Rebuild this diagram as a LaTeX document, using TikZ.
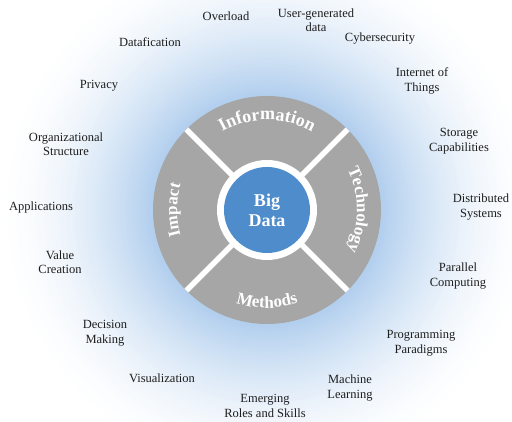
\documentclass[tikz,border=0pt]{standalone}
\usepackage{fontspec}
\setmainfont{Liberation Serif}
\usetikzlibrary{decorations.text}
\definecolor{glowA}{RGB}{178,207,238}
\definecolor{wheelgray}{RGB}{166,166,166}
\definecolor{coreblue}{RGB}{78,140,204}
\definecolor{lbltext}{RGB}{30,30,30}
\newcommand\wheelfont{\fontsize{17}{20}\selectfont\bfseries}
\newcommand\wheelfontwide{\fontsize{18}{20}\selectfont\bfseries}
\begin{document}
\begin{tikzpicture}[x=1pt,y=1pt,
  lbl/.style={align=center, font=\fontsize{12.5}{14.5}\selectfont, text=lbltext, inner sep=0pt},
  sepline/.style={draw=white, line width=5.5pt},
  corefont/.style={align=center, font=\fontsize{18}{20}\selectfont\bfseries, text=white, inner sep=0pt}
]
\useasboundingbox (0,0) rectangle (512,422);
\coordinate (c) at (267,212);
\begin{scope}
  \clip (0,0) rectangle (512,422);
  \fill[white] (0,0) rectangle (512,422);
  \foreach \i in {0,...,70} {
    \pgfmathsetmacro\r{270-\i*154/70}
    \pgfmathsetmacro\p{100*(\i/70)^1.7}
    \fill[glowA!\p!white] (c) circle (\r);
  }
\end{scope}
\fill[wheelgray] (c) circle (114);
\foreach \a in {45,135,225,315} \draw[sepline] (c) -- ++(\a:114);
\fill[white] (c) circle (50);
\fill[coreblue] (c) circle (43);
\node[corefont] (core) at (c) {Big\\Data};

\path[decorate, decoration={text along path, text align=center, text color=white, text={|\wheelfontwide|Information}}]
  ([shift={(150:90)}]c) arc[start angle=150, end angle=30, radius=90];
\path[decorate, decoration={text along path, text align=center, text color=white, text={|\wheelfont|Technology}}]
  ([shift={(45:90)}]c) arc[start angle=45, end angle=-45, radius=90];
\path[decorate, decoration={text along path, text align=center, text color=white, text={|\wheelfont|Impact}}]
  ([shift={(225:90)}]c) arc[start angle=225, end angle=135, radius=90];
\path[decorate, decoration={text along path, text align=center, text color=white, text={|\wheelfont|Methods}}]
  ([shift={(225:98)}]c) arc[start angle=225, end angle=315, radius=98];

\node[lbl] (overload) at (226,406) {Overload};
\node[lbl] (ugd) at (316,402) {User-generated\\data};
\node[lbl] (cyber) at (380,383) {Cybersecurity};
\node[lbl] (datafication) at (150,380) {Datafication};
\node[lbl] (iot) at (422,341) {Internet of\\Things};
\node[lbl] (privacy) at (99,336) {Privacy};
\node[lbl] (org) at (66,278) {Organizational\\Structure};
\node[lbl] (storage) at (459,281) {Storage\\Capabilities};
\node[lbl] (apps) at (41,214) {Applications};
\node[lbl] (dist) at (481,215) {Distributed\\Systems};
\node[lbl] (value) at (60,160) {Value\\Creation};
\node[lbl] (parallel) at (458,146) {Parallel\\Computing};
\node[lbl] (decision) at (105,89) {Decision\\Making};
\node[lbl] (prog) at (421,79) {Programming\\Paradigms};
\node[lbl] (vis) at (162,44) {Visualization};
\node[lbl] (ml) at (350,34) {Machine\\Learning};
\node[lbl] (emerging) at (265,16) {Emerging\\Roles and Skills};
\end{tikzpicture}
\end{document}
